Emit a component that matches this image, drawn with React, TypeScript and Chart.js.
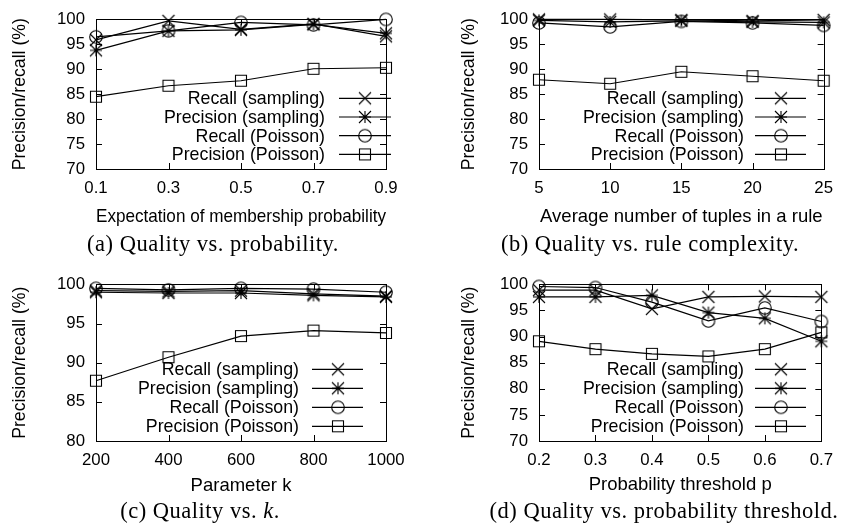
import React, { useEffect, useRef } from 'react';
import { Chart, registerables } from 'chart.js';

Chart.register(...registerables);

// ---------------- data ----------------
const seriesNames = ['Recall (sampling)', 'Precision (sampling)', 'Recall (Poisson)', 'Precision (Poisson)'];

// (a) Quality vs. probability
const aX = [0.1, 0.3, 0.5, 0.7, 0.9];
const aRecallSampling = [95.9, 99.7, 98.0, 99.1, 96.6];
const aPrecisionSampling = [93.8, 97.7, 97.9, 99.0, 97.2];
const aRecallPoisson = [96.5, 97.7, 99.4, 98.9, 100.0];
const aPrecisionPoisson = [84.5, 86.7, 87.7, 90.1, 90.3];
const aXTicks = [0.1, 0.3, 0.5, 0.7, 0.9];
const aYTicks = [70, 75, 80, 85, 90, 95, 100];

// (b) Quality vs. rule complexity
const bX = [5, 10, 15, 20, 25];
const bRecallSampling = [100.0, 100.0, 99.9, 99.7, 99.9];
const bPrecisionSampling = [99.8, 99.5, 99.7, 99.5, 99.4];
const bRecallPoisson = [99.3, 98.5, 99.6, 99.3, 98.8];
const bPrecisionPoisson = [87.9, 87.1, 89.5, 88.6, 87.7];
const bXTicks = [5, 10, 15, 20, 25];
const bYTicks = [70, 75, 80, 85, 90, 95, 100];

// (c) Quality vs. k
const cX = [200, 400, 600, 800, 1000];
const cRecallSampling = [99.2, 99.1, 99.2, 98.8, 98.5];
const cPrecisionSampling = [99.0, 98.9, 98.9, 98.6, 98.4];
const cRecallPoisson = [99.5, 99.3, 99.5, 99.4, 99.0];
const cPrecisionPoisson = [87.7, 90.7, 93.4, 94.1, 93.8];
const cXTicks = [200, 400, 600, 800, 1000];
const cYTicks = [80, 85, 90, 95, 100];

// (d) Quality vs. probability threshold
const dX = [0.2, 0.3, 0.4, 0.5, 0.6, 0.7];
const dRecallSampling = [98.9, 98.9, 95.3, 97.6, 97.7, 97.6];
const dPrecisionSampling = [97.6, 97.6, 97.9, 94.6, 93.5, 89.1];
const dRecallPoisson = [99.6, 99.4, 96.6, 93.0, 95.5, 92.9];
const dPrecisionPoisson = [89.1, 87.6, 86.7, 86.2, 87.6, 90.8];
const dXTicks = [0.2, 0.3, 0.4, 0.5, 0.6, 0.7];
const dYTicks = [70, 75, 80, 85, 90, 95, 100];

const yTitle = 'Precision/recall (%)';

// ---------------- styling ----------------
const SANS = "'Liberation Sans', Arial, Helvetica, sans-serif";
const SERIF = "'Liberation Serif', 'Times New Roman', serif";

function makeMarker(kind: string): HTMLCanvasElement {
  const c = document.createElement('canvas');
  const size = 16;
  c.width = size;
  c.height = size;
  const g = c.getContext('2d')!;
  const m = size / 2;
  g.strokeStyle = '#000';
  g.lineWidth = 1.1;
  g.beginPath();
  const h = 6;
  if (kind === 'x') {
    g.moveTo(m - h, m - h); g.lineTo(m + h, m + h);
    g.moveTo(m + h, m - h); g.lineTo(m - h, m + h);
  } else if (kind === 'star') {
    g.moveTo(m - h, m - h); g.lineTo(m + h, m + h);
    g.moveTo(m + h, m - h); g.lineTo(m - h, m + h);
    g.moveTo(m, m - h); g.lineTo(m, m + h);
    g.moveTo(m - h, m); g.lineTo(m + h, m);
  } else if (kind === 'circle') {
    g.arc(m, m, 6.3, 0, Math.PI * 2);
  } else {
    g.rect(m - 5.5, m - 5.5, 11, 11);
  }
  g.stroke();
  return c;
}

type LegendPos = { textRight: number; lineStart: number; lineEnd: number; markerX: number; y0: number; gap: number };

type PanelDef = {
  id: string;
  left: number; top: number; width: number; height: number;
  xValues: number[]; xTicks: number[]; xDecimals: number;
  yMin: number; yMax: number; yTicks: number[];
  series: number[][];
  xTitle: string;
  areaLeft: number; areaRight: number; areaTop: number; areaBottom: number;
  xAxisH: number;
  yTitlePad: number;
  legend: LegendPos;
};

const panels: PanelDef[] = [
  {
    id: 'a', left: 0, top: 0, width: 422, height: 265,
    xValues: aX, xTicks: aXTicks, xDecimals: 1,
    yMin: 70, yMax: 100, yTicks: aYTicks,
    series: [aRecallSampling, aPrecisionSampling, aRecallPoisson, aPrecisionPoisson],
    xTitle: 'Expectation of membership probability',
    areaLeft: 96, areaRight: 386, areaTop: 10, areaBottom: 169,
    xAxisH: 59,
    yTitlePad: 9.5,
    legend: { textRight: 325, lineStart: 339, lineEnd: 391, markerX: 365, y0: 98.3, gap: 18.7 },
  },
  {
    id: 'b', left: 422, top: 0, width: 422, height: 265,
    xValues: bX, xTicks: bXTicks, xDecimals: 0,
    yMin: 70, yMax: 100, yTicks: bYTicks,
    series: [bRecallSampling, bPrecisionSampling, bRecallPoisson, bPrecisionPoisson],
    xTitle: 'Average number of tuples in a rule',
    areaLeft: 117, areaRight: 407, areaTop: 10, areaBottom: 169,
    xAxisH: 59,
    yTitlePad: 36,
    legend: { textRight: 322, lineStart: 333, lineEnd: 384, markerX: 359, y0: 98.3, gap: 18.7 },
  },
  {
    id: 'c', left: 0, top: 265, width: 422, height: 264,
    xValues: cX, xTicks: cXTicks, xDecimals: 0,
    yMin: 80, yMax: 100, yTicks: cYTicks,
    series: [cRecallSampling, cPrecisionSampling, cRecallPoisson, cPrecisionPoisson],
    xTitle: 'Parameter k',
    areaLeft: 96, areaRight: 386, areaTop: 16, areaBottom: 176,
    xAxisH: 56,
    yTitlePad: 9.5,
    legend: { textRight: 299, lineStart: 312, lineEnd: 363, markerX: 338, y0: 104.3, gap: 19 },
  },
  {
    id: 'd', left: 422, top: 265, width: 422, height: 264,
    xValues: dX, xTicks: dXTicks, xDecimals: 1,
    yMin: 70, yMax: 100, yTicks: dYTicks,
    series: [dRecallSampling, dPrecisionSampling, dRecallPoisson, dPrecisionPoisson],
    xTitle: 'Probability threshold p',
    areaLeft: 117, areaRight: 407, areaTop: 16, areaBottom: 176,
    xAxisH: 55,
    yTitlePad: 36,
    legend: { textRight: 322, lineStart: 333, lineEnd: 384, markerX: 359, y0: 104.3, gap: 19 },
  },
];

const captions = [
  { id: 'a', cx: 213, cy: 244, content: <>(a) Quality vs. probability.</> },
  { id: 'b', cx: 650, cy: 244, content: <>(b) Quality vs. rule complexity.</> },
  { id: 'c', cx: 200, cy: 511, content: <>(c) Quality vs. <i>k</i>.</> },
  { id: 'd', cx: 664, cy: 511, content: <>(d) Quality vs. probability threshold.</> },
];

const TICK_LEN = 6;

function Panel({ def }: { def: PanelDef }) {
  const ref = useRef<HTMLCanvasElement | null>(null);
  useEffect(() => {
    const canvas = ref.current!;
    const markers = [makeMarker('x'), makeMarker('star'), makeMarker('circle'), makeMarker('square')];
    const padBottom = def.height - def.areaBottom - def.xAxisH;

    const framePlugin = {
      id: 'frame' + def.id,
      beforeDatasetsDraw(chart: any) {
        const { ctx, chartArea } = chart;
        const { left, right, top, bottom } = chartArea;
        const xs = chart.scales.x;
        const ys = chart.scales.y;
        ctx.save();
        ctx.strokeStyle = '#000';
        ctx.lineWidth = 1;
        ctx.beginPath();
        def.xTicks.forEach((v) => {
          const px = Math.round(xs.getPixelForValue(v)) + 0.5;
          ctx.moveTo(px, bottom); ctx.lineTo(px, bottom - TICK_LEN);
          ctx.moveTo(px, top); ctx.lineTo(px, top + TICK_LEN);
        });
        def.yTicks.forEach((v) => {
          const py = Math.round(ys.getPixelForValue(v)) + 0.5;
          ctx.moveTo(left, py); ctx.lineTo(left + TICK_LEN, py);
          ctx.moveTo(right, py); ctx.lineTo(right - TICK_LEN, py);
        });
        ctx.stroke();
        ctx.strokeRect(Math.round(left) + 0.5, Math.round(top) + 0.5, Math.round(right - left), Math.round(bottom - top));
        ctx.restore();
      },
    };

    const legendPlugin = {
      id: 'keys' + def.id,
      afterDatasetsDraw(chart: any) {
        const ctx = chart.ctx;
        const L = def.legend;
        ctx.save();
        ctx.font = `17.8px ${SANS}`;
        ctx.fillStyle = '#000';
        ctx.strokeStyle = '#000';
        ctx.lineWidth = 1.2;
        ctx.textAlign = 'right';
        ctx.textBaseline = 'middle';
        seriesNames.forEach((name, i) => {
          const y = L.y0 + i * L.gap;
          ctx.fillText(name, L.textRight, y + 1);
          ctx.beginPath();
          ctx.moveTo(L.lineStart, y);
          ctx.lineTo(L.lineEnd, y);
          ctx.stroke();
          const mk = markers[i];
          ctx.drawImage(mk, L.markerX - mk.width / 2, y - mk.height / 2);
        });
        ctx.restore();
      },
    };

    const chart = new Chart(canvas, {
      type: 'line',
      data: {
        datasets: def.series.map((s, i) => ({
          label: seriesNames[i],
          data: def.xValues.map((x, j) => ({ x, y: s[j] })),
          borderColor: '#000',
          backgroundColor: '#000',
          borderWidth: 1.2,
          pointStyle: markers[i] as any,
          pointRadius: 7,
          pointHoverRadius: 7,
          fill: false,
          tension: 0,
          clip: false as any,
        })),
      },
      options: {
        animation: false,
        responsive: false,
        events: [],
        layout: {
          padding: { left: 0, right: def.width - def.areaRight, top: def.areaTop, bottom: padBottom },
        },
        plugins: { legend: { display: false }, tooltip: { enabled: false } },
        scales: {
          x: {
            type: 'linear',
            min: def.xTicks[0],
            max: def.xTicks[def.xTicks.length - 1],
            afterBuildTicks: (s: any) => { s.ticks = def.xTicks.map((v) => ({ value: v })); },
            afterFit: (s: any) => { s.height = def.xAxisH; },
            ticks: {
              autoSkip: false, maxRotation: 0, minRotation: 0, padding: 11,
              color: '#000', font: { family: SANS, size: 16.8, lineHeight: 1 },
              callback: (v: any) => Number(v).toFixed(def.xDecimals),
            },
            grid: { display: false, drawTicks: false },
            border: { display: false },
            title: {
              display: true, text: def.xTitle, color: '#000',
              font: { family: SANS, size: 18.5, lineHeight: 1.2 }, padding: { top: 0, bottom: 0 },
            },
          },
          y: {
            type: 'linear',
            min: def.yMin,
            max: def.yMax,
            afterBuildTicks: (s: any) => { s.ticks = def.yTicks.map((v) => ({ value: v })); },
            afterFit: (s: any) => { s.width = def.areaLeft; },
            ticks: {
              autoSkip: false, padding: 11,
              color: '#000', font: { family: SANS, size: 16.8, lineHeight: 1 },
              callback: (v: any) => String(v),
            },
            grid: { display: false, drawTicks: false },
            border: { display: false },
            title: {
              display: true, text: yTitle, color: '#000',
              font: { family: SANS, size: 17.7, lineHeight: 1.2 }, padding: { top: def.yTitlePad, bottom: 0 },
            },
          },
        },
      } as any,
      plugins: [framePlugin, legendPlugin],
    });
    return () => chart.destroy();
  }, [def]);

  return (
    <canvas
      ref={ref}
      width={def.width}
      height={def.height}
      style={{ position: 'absolute', left: def.left, top: def.top, width: def.width, height: def.height }}
    />
  );
}

export default function App() {
  return (
    <div style={{ position: 'absolute', left: 0, top: 0, width: 844, height: 529, background: '#fff', overflow: 'hidden' }}>
      {panels.map((p) => <Panel key={p.id} def={p} />)}
      {captions.map((c) => (
        <div
          key={c.id}
          style={{
            position: 'absolute', left: c.cx, top: c.cy, transform: 'translate(-50%, -50%)',
            fontFamily: SERIF, fontSize: 22.5, letterSpacing: '0.5px', whiteSpace: 'nowrap', lineHeight: 1, color: '#000',
          }}
        >
          {c.content}
        </div>
      ))}
    </div>
  );
}
